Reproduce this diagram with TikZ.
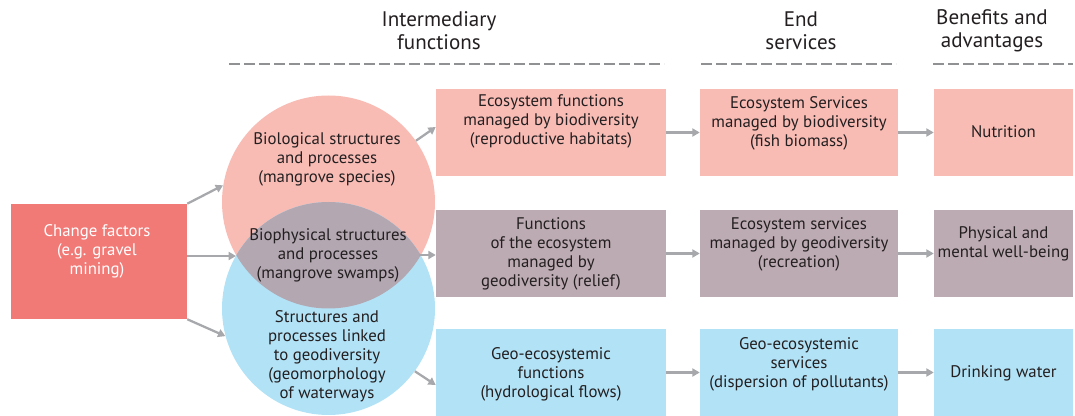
\documentclass[tikz,border=0pt]{standalone}
\usepackage{fontspec}
\setmainfont{PT Sans}
\usetikzlibrary{arrows.meta,calc}
\definecolor{cfred}{HTML}{F17A77}
\definecolor{pinkc}{HTML}{F8BCB5}
\definecolor{bluec}{HTML}{B2E2F6}
\definecolor{lensc}{HTML}{B3A7B1}
\definecolor{mauvec}{HTML}{BDABB3}
\definecolor{arrowc}{HTML}{A6A8AB}
\definecolor{dashc}{HTML}{8F9193}
\definecolor{txtc}{HTML}{231F20}
\begin{document}
\begin{tikzpicture}[x=0.75pt,y=-0.75pt,
  txt/.style={align=center,text=txtc,inner sep=0pt,font=\fontsize{12.6}{14.25}\selectfont},
  hdr/.style={align=center,text=txtc,inner sep=0pt,font=\fontsize{15.8}{17.25}\selectfont},
  box/.style={rectangle,inner sep=0pt,draw=none},
  col1/.style={box,minimum width=172.5pt,minimum height=65.25pt},
  col2/.style={box,minimum width=148.5pt,minimum height=65.25pt},
  col3/.style={box,minimum width=104.25pt,minimum height=65.25pt},
  disc/.style={circle,inner sep=0pt,minimum size=159.75pt,draw=none},
  arr/.style={draw=arrowc,line width=1.7pt,-{Triangle[length=5.5pt,width=6pt]}},
  sep/.style={draw=dashc,line width=0.9pt,dash pattern=on 8.25pt off 3pt}]
\useasboundingbox (0,0) rectangle (1075,416);

% headers
\node[hdr] (h1) at (439,31) {Intermediary\\functions};
\node[hdr] (h2) at (801,31) {End\\services};
\node[hdr] (h3) at (992,31) {Benefits and\\advantages};
\path[sep] (229,64) -- (664,64);
\path[sep] (701,64) -- (896,64);
\path[sep] (933,64) -- (1073,64);

% change factors
\node[box,fill=cfred,minimum width=132pt,minimum height=86.25pt] (cf) at (99,261.5) {};
\node[txt,text=white] (cft) at (97,251) {Change factors\\(e.g. gravel\\mining)};

% circles
\node[disc,fill=pinkc] (pink) at (328.5,202) {};
\node[disc,fill=bluec] (blue) at (328.5,308.5) {};
\begin{scope}
  \clip (pink.center) circle[radius=79.875pt];
  \fill[lensc] (blue.center) circle[radius=79.875pt];
\end{scope}
\node[txt] (biot) at (327,159) {Biological structures\\and processes\\(mangrove species)};
\node[txt] (bpt) at (328,255) {Biophysical structures\\and processes\\(mangrove swamps)};
\node[txt] (geot) at (327,356) {Structures and\\processes linked\\to geodiversity\\(geomorphology\\of waterways};
\coordinate (lensL) at (236,256);
\coordinate (lensR) at (419,255);

% boxes
\node[col1,fill=pinkc] (r1c1) at (551,132.5) {};
\node[col2,fill=pinkc] (r1c2) at (799,132.5) {};
\node[col3,fill=pinkc] (r1c3) at (1003.5,132.5) {};
\node[col1,fill=mauvec] (r2c1) at (551,253.5) {};
\node[col2,fill=mauvec] (r2c2) at (799,253.5) {};
\node[col3,fill=mauvec] (r2c3) at (1003.5,253.5) {};
\node[col1,fill=bluec] (r3c1) at (551,372.5) {};
\node[col2,fill=bluec] (r3c2) at (799,372.5) {};
\node[col3,fill=bluec] (r3c3) at (1003.5,372.5) {};

\node[txt] (r1c1t) at (551,121) {Ecosystem functions\\managed by biodiversity\\(reproductive habitats)};
\node[txt] (r1c2t) at (799,123) {Ecosystem Services\\managed by biodiversity\\(fish biomass)};
\node[txt] (r1c3t) at (1003.5,132) {Nutrition};
\node[txt] (r2c1t) at (551,253.5) {Functions\\of the ecosystem\\managed by\\geodiversity (relief)};
\node[txt] (r2c2t) at (799,244) {Ecosystem services\\managed by geodiversity\\(recreation)};
\node[txt] (r2c3t) at (1003.5,244) {Physical and\\mental well-being};
\node[txt] (r3c1t) at (551,374) {Geo-ecosystemic\\functions\\(hydrological flows)};
\node[txt] (r3c2t) at (799,364) {Geo-ecosystemic\\services\\(dispersion of pollutants)};
\node[txt] (r3c3t) at (1003.5,373) {Drinking water};

% arrows from change factors
\draw[arr] (cf.north east) -- (pink.171);
\draw[arr] ($(cf.east)+(0,-5.5)$) -- (lensL);
\draw[arr] (cf.south east) -- (blue.195);

% arrows from circles
\draw[arr] (pink.35) -- ($(r1c1.west)+(0,-5.5)$);
\draw[arr] (lensR) -- (r2c1.west |- lensR);
\draw[arr] (blue.-36) -- ($(r3c1.west)+(0,12.5)$);

% row arrows
\draw[arr] (r1c1.east) -- (r1c2.west);
\draw[arr] (r1c2.east) -- (r1c3.west);
\draw[arr] (r2c1.east) -- (r2c2.west);
\draw[arr] (r2c2.east) -- (r2c3.west);
\draw[arr] (r3c1.east) -- (r3c2.west);
\draw[arr] (r3c2.east) -- (r3c3.west);
\end{tikzpicture}
\end{document}
